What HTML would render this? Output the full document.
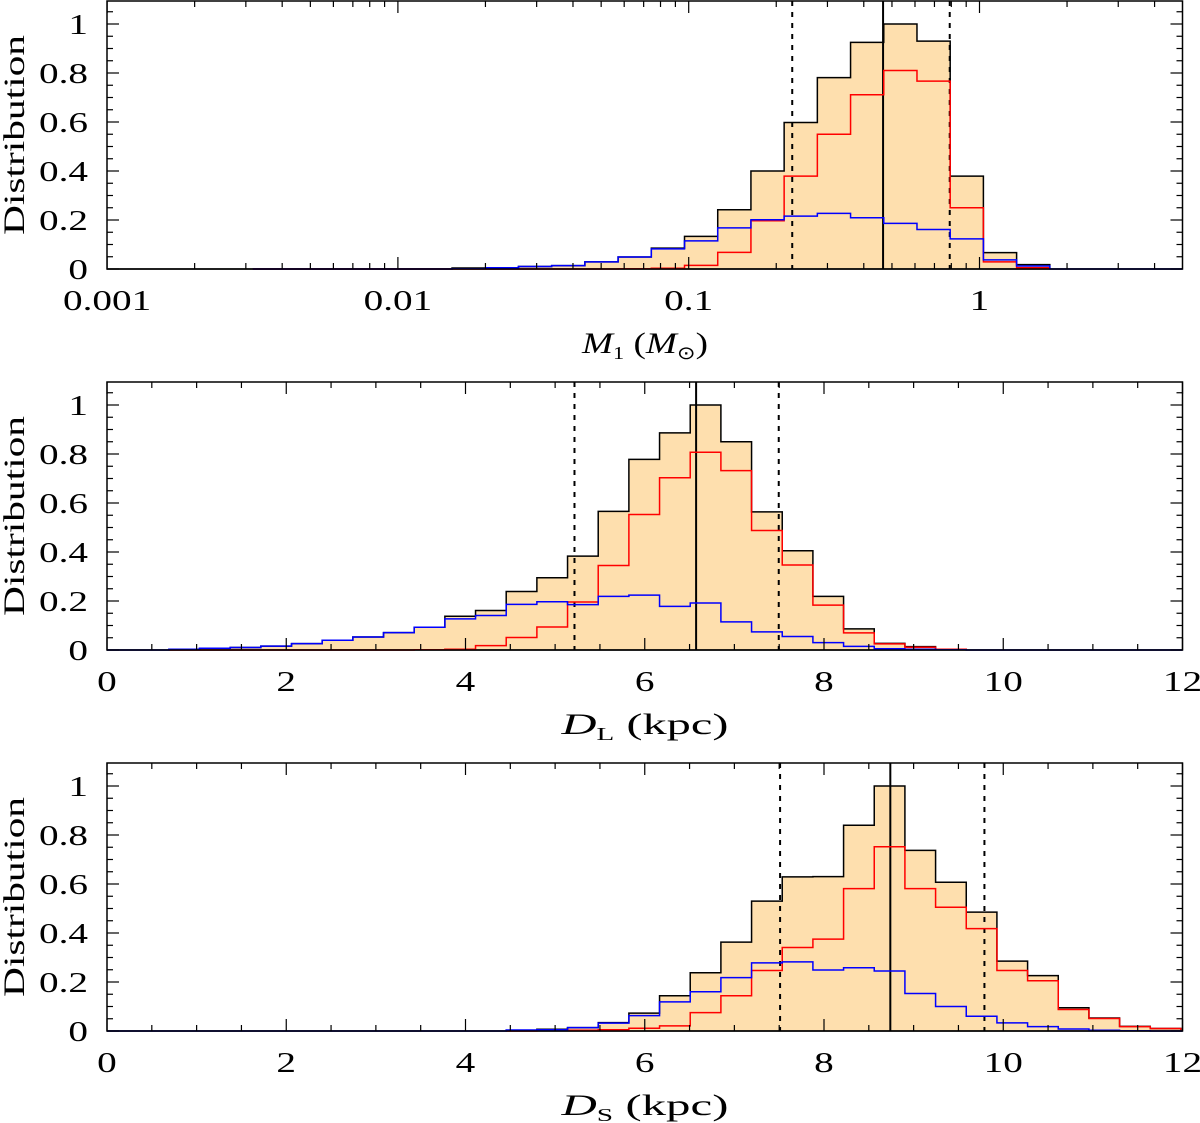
<!DOCTYPE html>
<html><head><meta charset="utf-8"><style>
html,body{margin:0;padding:0;background:#fff;}
svg{display:block;}
text{font-family:"Liberation Serif",serif;fill:#000;}
</style></head><body>
<svg id="chart" width="1200" height="1123" viewBox="0 0 1200 1123" xmlns="http://www.w3.org/2000/svg"></svg>
<script>
// ---- Panel 1 data (M1, log bins) ----
const m1BinStartLog = -2.499;
const m1BinWidthLog = 0.1142;
const m1Black = [0,0,0,0,0,0,0.004,0.005,0.01,0.014,0.029,0.049,0.085,0.133,0.242,0.40,0.598,0.781,0.925,1.0,0.93,0.379,0.067,0.018];
const m1Red   = [0,0,0,0,0,0,0,0,0,0,0,0.001,0.003,0.015,0.068,0.197,0.379,0.55,0.711,0.81,0.767,0.25,0.029,0.005];
const m1Blue  = [0,0,0,0,0,0,0.001,0.005,0.01,0.014,0.029,0.049,0.082,0.115,0.168,0.201,0.216,0.227,0.209,0.186,0.161,0.123,0.037,0.012];
const m1Lines = [0.227, 0.466, 0.79];
const m1TickValues = [0.001, 0.01, 0.1, 1];
const m1TickLabels = ["0.001", "0.01", "0.1", "1"];

// ---- Panel 2/3 shared bins (kpc) ----
const dBinStart = 0.69;
const dBinWidth = 0.3422;
const dlBlack = [0.001,0.007,0.01,0.016,0.026,0.04,0.053,0.071,0.093,0.138,0.161,0.239,0.295,0.383,0.566,0.778,0.886,1.0,0.85,0.564,0.405,0.219,0.086,0.027,0.014,0.003];
const dlRed   = [0,0,0,0,0,0,0,0,0.001,0.003,0.018,0.051,0.094,0.196,0.345,0.553,0.703,0.807,0.732,0.488,0.347,0.183,0.07,0.025,0.011,0.003];
const dlBlue  = [0.003,0.007,0.01,0.016,0.026,0.04,0.053,0.071,0.093,0.127,0.141,0.186,0.197,0.185,0.219,0.224,0.178,0.192,0.115,0.074,0.055,0.03,0.015,0.005,0.003,0.001];
const dlLines = [5.216, 6.573, 7.495];

const dsFirstBin = 11;
const dsBlack = [0.003,0.007,0.014,0.034,0.073,0.144,0.238,0.363,0.53,0.629,0.63,0.84,1.0,0.737,0.607,0.485,0.285,0.226,0.095,0.053,0.019,0.01];
const dsRed   = [0,0.001,0.003,0.005,0.011,0.021,0.075,0.144,0.247,0.341,0.375,0.581,0.752,0.581,0.505,0.418,0.247,0.205,0.088,0.051,0.018,0.01];
const dsBlue  = [0.004,0.005,0.014,0.032,0.063,0.119,0.16,0.218,0.278,0.282,0.249,0.258,0.245,0.153,0.1,0.06,0.033,0.018,0.008,0.003,0.001,0];
const dsLines = [7.51, 8.74, 9.79];

const linTickValues = [0,2,4,6,8,10,12];
const yTickValues = [0,0.2,0.4,0.6,0.8,1];
const yTickLabels = ["0","0.2","0.4","0.6","0.8","1"];

const NS = "http://www.w3.org/2000/svg";
const svg = document.getElementById('chart');
const X0 = 107, X1 = 1182.5, YPX = 245;

function el(tag, attrs, parent) {
  const e = document.createElementNS(NS, tag);
  for (const k in attrs) e.setAttribute(k, attrs[k]);
  (parent || svg).appendChild(e);
  return e;
}
function stretch(t, factor, fixed) {
  const len = t.getComputedTextLength();
  if (len > 0) {
    t.setAttribute('textLength', fixed ? fixed : len * factor);
    t.setAttribute('lengthAdjust', 'spacingAndGlyphs');
  }
}

function makePanel(cfg) {
  const g = el('g', {});
  
  
  const top = cfg.top, bot = cfg.bottom;
  const yS = v => bot - v * YPX;
  const xS = cfg.xScale;
  function stepPts(vals, edgeFn, extendRight) {
    let pts = [];
    pts.push([edgeFn(0), bot]);
    for (let i = 0; i < vals.length; i++) {
      pts.push([edgeFn(i), yS(vals[i])]);
      pts.push([edgeFn(i + 1), yS(vals[i])]);
    }
    pts.push([edgeFn(vals.length), bot]);
    if (extendRight) pts.push([X1, bot]);
    return pts;
  }
  const edge = cfg.edge;
  const fp = stepPts(cfg.black, edge, false);
  const fill = el('polygon', {points: fp.map(p => p.join(',')).join(' '), fill: '#fedfae', stroke: 'none'}, g);
  
  
  cfg.lines.forEach((v, i) => {
    const x = xS(v);
    const ln = el('line', {x1: x, x2: x, y1: top, y2: bot, stroke: '#000', 'stroke-width': 2,
      'stroke-dasharray': i === 1 ? 'none' : '5,6'}, g);
    
    
  });
  const series = [['red', '#f00', cfg.red, 'red-series'], ['black', '#000', cfg.black, 'black-series'], ['blue', '#00f', cfg.blue, 'blue-series']];
  el('line', {x1: X0, x2: X1, y1: bot, y2: bot, stroke: '#000', 'stroke-width': 1.5}, g);
  const order = [series[1], series[0], series[2]];
  order.forEach(s => {
    const pts = stepPts(s[2], edge, s[0] === 'blue');
    if (s[0] === 'blue') pts.unshift([cfg.blueStart, bot]);
    const pl = el('polyline', {points: pts.map(p => p.join(',')).join(' '), fill: 'none', stroke: s[1], 'stroke-width': 1.5}, g);
    
    
  });
  el('rect', {x: X0, y: top, width: X1 - X0, height: bot - top, fill: 'none', stroke: '#000', 'stroke-width': 1.5}, g);
  for (let k = 0; k * 0.05 <= (bot - top) / YPX; k++) {
    const v = k * 0.05, y = yS(v);
    const len = (k % 4 === 0) ? 12 : 6;
    el('line', {x1: X0, x2: X0 + len, y1: y, y2: y, stroke: '#000', 'stroke-width': 1.2}, g);
    el('line', {x1: X1, x2: X1 - len, y1: y, y2: y, stroke: '#000', 'stroke-width': 1.2}, g);
  }
  yTickValues.forEach((v, i) => {
    const t = el('text', {x: 88, y: yS(v) + 10, 'text-anchor': 'end', 'font-size': 28}, g);
    t.textContent = yTickLabels[i];
    
    
    stretch(t, 1.4);
  });
  cfg.xTicks.forEach(tk => {
    const x = xS(tk[0]), len = tk[1] ? 12 : 6;
    el('line', {x1: x, x2: x, y1: bot, y2: bot - len, stroke: '#000', 'stroke-width': 1.2}, g);
    el('line', {x1: x, x2: x, y1: top, y2: top + len, stroke: '#000', 'stroke-width': 1.2}, g);
  });
  cfg.xLabels.forEach(lb => {
    const t = el('text', {x: xS(lb[0]), y: bot + 41, 'text-anchor': 'middle', 'font-size': 28}, g);
    t.textContent = lb[1];
    
    
    stretch(t, 1.4);
  });
  const yc = (top + bot) / 2;
  const yt = el('text', {x: 24, y: yc, 'text-anchor': 'middle', 'font-size': 30, transform: `rotate(-90 24 ${yc})`}, g);
  yt.textContent = 'Distribution';
  
  
  stretch(yt, 1, 200);
  const xt = el('text', {x: 645, y: bot + 84, 'text-anchor': 'middle', 'font-size': 30}, g);
  xt.innerHTML = cfg.xTitle;
  
  
  stretch(xt, 1, cfg.titleLen);
}

const DEC = 290.8, LOG_AT_1 = 979.5;
const xLog = v => LOG_AT_1 + Math.log10(v) * DEC;
const m1Ticks = [];
for (let d = -3; d <= 0; d++) for (let m = 1; m <= 9; m++) {
  const v = m * Math.pow(10, d);
  if (xLog(v) <= X1) m1Ticks.push([v, m === 1]);
}
makePanel({
  name: 'panel-m1', top: 1, bottom: 269, xScale: xLog,
  edge: i => LOG_AT_1 + (m1BinStartLog + i * m1BinWidthLog) * DEC,
  black: m1Black, red: m1Red, blue: m1Blue, lines: m1Lines, blueStart: LOG_AT_1 + m1BinStartLog * DEC,
  xTicks: m1Ticks.filter(t => xLog(t[0]) <= X1 + 0.5),
  xLabels: m1TickValues.map((v, i) => [v, m1TickLabels[i]]),
  titleLen: 126,
  xTitle: '<tspan font-style="italic">M</tspan><tspan font-size="18" dy="6">1</tspan><tspan dy="-6"> (</tspan><tspan font-style="italic">M</tspan><tspan font-size="18" dy="6">⊙</tspan><tspan dy="-6">)</tspan>'
});

const xLin = v => X0 + v * (X1 - X0) / 12;
const linTicks = [];
for (let k = 0; k <= 24; k++) linTicks.push([k * 0.5, k % 4 === 0]);
makePanel({
  name: 'panel-dl', top: 382, bottom: 650, xScale: xLin,
  edge: i => xLin(dBinStart + i * dBinWidth),
  black: dlBlack, red: dlRed, blue: dlBlue, lines: dlLines, blueStart: xLin(0),
  xTicks: linTicks, xLabels: linTickValues.map(v => [v, String(v)]),
  titleLen: 167,
  xTitle: '<tspan font-style="italic">D</tspan><tspan font-size="18" dy="6">L</tspan><tspan dy="-6"> (kpc)</tspan>'
});
makePanel({
  name: 'panel-ds', top: 763, bottom: 1031, xScale: xLin,
  edge: i => xLin(dBinStart + (dsFirstBin + i) * dBinWidth),
  black: dsBlack, red: dsRed, blue: dsBlue, lines: dsLines, blueStart: xLin(0),
  xTicks: linTicks, xLabels: linTickValues.map(v => [v, String(v)]),
  titleLen: 167,
  xTitle: '<tspan font-style="italic">D</tspan><tspan font-size="18" dy="6">S</tspan><tspan dy="-6"> (kpc)</tspan>'
});
</script>
</body></html>
